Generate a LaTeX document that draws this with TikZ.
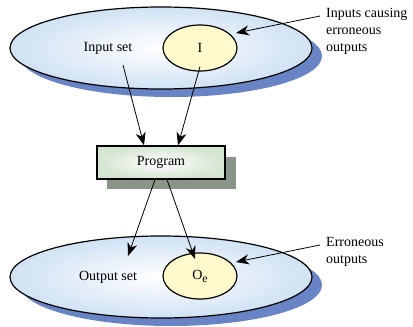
\documentclass[tikz,border=0pt]{standalone}
\usepackage{fontspec}
\setmainfont{Liberation Serif}
\usetikzlibrary{arrows.meta,shapes.geometric}
\definecolor{setedge}{RGB}{208,226,244}
\definecolor{setshade}{RGB}{104,132,196}
\definecolor{subfill}{RGB}{255,249,204}
\definecolor{progedge}{RGB}{212,229,208}
\definecolor{progshade}{RGB}{138,151,136}
\begin{document}
\begin{tikzpicture}[x=1pt,y=-1pt,
  font=\fontsize{14}{17}\selectfont,
  bigset/.style={ellipse,draw=black,line width=1.2pt,inner sep=0pt,
    minimum width=302pt,minimum height=82pt,
    inner color=white,outer color=setedge},
  setshadow/.style={ellipse,fill=setshade,inner sep=0pt,
    minimum width=302pt,minimum height=82pt},
  subset/.style={ellipse,draw=black,line width=1.2pt,fill=subfill,inner sep=0pt,
    minimum width=74pt,minimum height=46pt},
  progbox/.style={rectangle,draw=black,line width=1.2pt,inner sep=0pt,
    minimum width=128pt,minimum height=33pt,
    inner color=white,outer color=progedge},
  progshadow/.style={rectangle,fill=progshade,inner sep=0pt,
    minimum width=129pt,minimum height=32pt},
  arr/.style={-{Stealth[length=13pt,width=10pt,inset=4pt]},line width=0.8pt},
  note/.style={align=left,anchor=north west,inner sep=0pt}]
\useasboundingbox (0,0) rectangle (413,327);

% input set
\node[setshadow] (inshadow) at (171,56) {};
\node[bigset] (inset) at (161,48) {};
\node (inlabel) at (108,48) {Input set};
\node[subset] (isub) at (200,48) {I};

% program
\node[progshadow] (progshadow) at (171.5,173) {};
\node[progbox] (prog) at (161,162.5) {Program};

% output set
\node[setshadow] (outshadow) at (171,285) {};
\node[bigset] (outset) at (161,277) {};
\node (outlabel) at (108,277) {Output set};
\node[subset] (osub) at (200,276) {O\raisebox{-3pt}{\fontsize{12}{12}\selectfont e}};

% connectors between the sets and the program
\coordinate (infrom) at (123,65);
\draw[arr] (infrom) -- ([xshift=-17pt]prog.north);
\draw[arr] ([yshift=5pt]isub.south) -- ([xshift=17pt]prog.north);
\draw[arr] ([xshift=-6pt]prog.south) -- (128,256);
\draw[arr] ([xshift=6pt]prog.south) -- (195,259);

% annotations
\node[note] (innote) at (326,8) {Inputs causing\\erroneous\\outputs};
\coordinate (innotefrom) at (320,16);
\draw[arr] (innotefrom) -- (236,33);
\node[note] (outnote) at (326,237) {Erroneous\\outputs};
\coordinate (outnotefrom) at (320,245);
\draw[arr] (outnotefrom) -- (236,262);
\end{tikzpicture}
\end{document}
